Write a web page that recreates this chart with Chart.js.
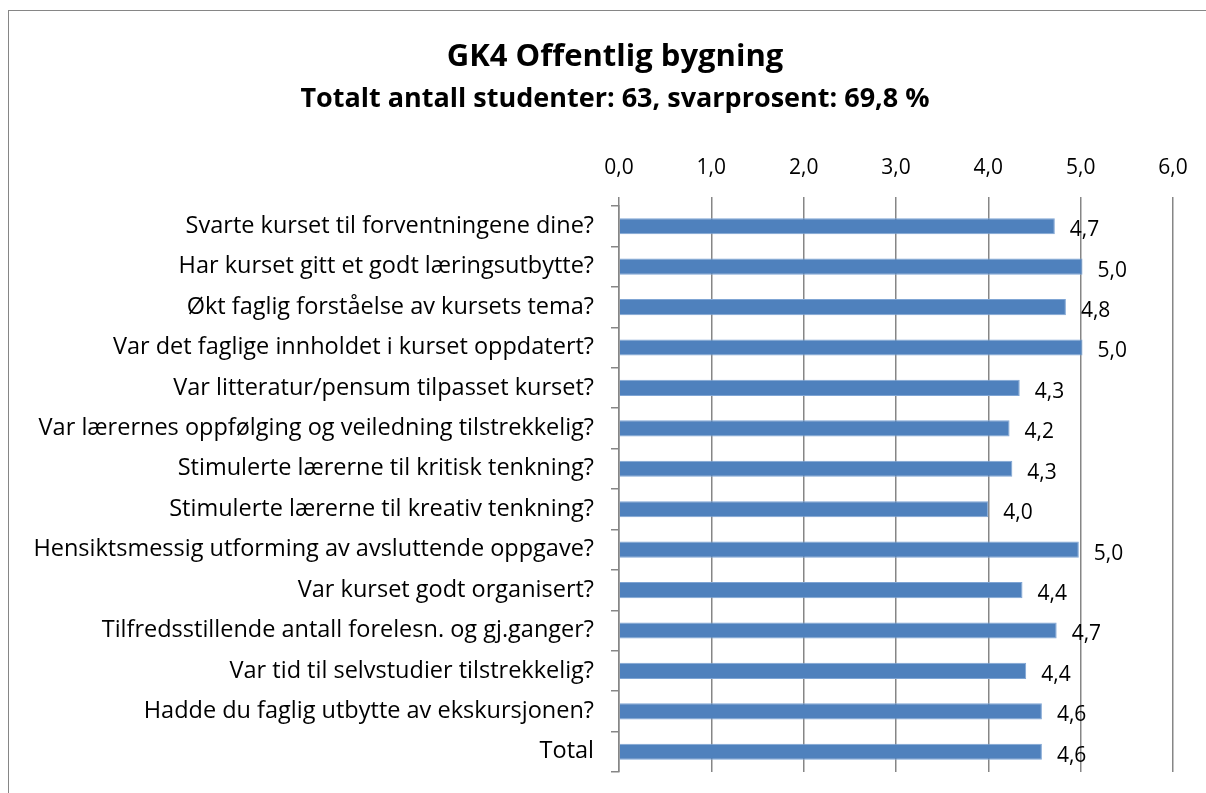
<!DOCTYPE html>
<html>
<head>
<meta charset="utf-8">
<script src="https://cdn.jsdelivr.net/npm/chart.js@4"></script>
<style>
  html, body { margin: 0; padding: 0; background: #fff; overflow: hidden; }
  body { font-family: 'Open Sans', 'Noto Sans', sans-serif; color: #000; }
  #box { position: absolute; left: 8px; top: 10px; width: 1215px; height: 800px; border: 1px solid #868686; background: #fff; }
  .head { position: absolute; left: 0; width: 1230px; text-align: center; font-weight: bold; white-space: nowrap; }
  #title { top: 36px; font-size: 31px; line-height: 37px; }
  #subtitle { top: 81px; font-size: 27px; line-height: 32px; }
</style>
</head>
<body>
<div id="box"><canvas id="chart"></canvas></div>
<div class="head" id="title">GK4 Offentlig bygning</div>
<div class="head" id="subtitle">Totalt antall studenter: 63, svarprosent: 69,8 %</div>
<script>
const questions = [
  'Svarte kurset til forventningene dine?',
  'Har kurset gitt et godt læringsutbytte?',
  'Økt faglig forståelse av kursets tema?',
  'Var det faglige innholdet i kurset oppdatert?',
  'Var litteratur/pensum tilpasset kurset?',
  'Var lærernes oppfølging og veiledning tilstrekkelig?',
  'Stimulerte lærerne til kritisk tenkning?',
  'Stimulerte lærerne til kreativ tenkning?',
  'Hensiktsmessig utforming av avsluttende oppgave?',
  'Var kurset godt organisert?',
  'Tilfredsstillende antall forelesn. og gj.ganger?',
  'Var tid til selvstudier tilstrekkelig?',
  'Hadde du faglig utbytte av ekskursjonen?',
  'Total'
];
const scores = [4.72, 5.02, 4.84, 5.02, 4.34, 4.23, 4.26, 4.00, 4.98, 4.37, 4.74, 4.41, 4.58, 4.58];
const axisMin = 0;
const axisMax = 6;

const fontName = "'Open Sans', 'Noto Sans', sans-serif";
const fmt = v => v.toFixed(1).replace('.', ',');

// verdiene til høyre for stolpene
const valueLabels = {
  id: 'valueLabels',
  afterDatasetsDraw(chart) {
    const ctx = chart.ctx;
    const meta = chart.getDatasetMeta(0);
    ctx.save();
    ctx.font = '21px ' + fontName;
    ctx.fillStyle = '#000';
    ctx.textAlign = 'left';
    ctx.textBaseline = 'middle';
    meta.data.forEach((bar, i) => {
      ctx.fillText(fmt(scores[i]), bar.x + 15, bar.y + 4);
    });
    ctx.restore();
  }
};

const ctx = document.getElementById('chart').getContext('2d');
const chart = new Chart(ctx, {
  type: 'bar',
  data: {
    labels: questions,
    datasets: [{
      data: scores,
      backgroundColor: '#4F81BD',
      borderColor: '#7FA5D4',
      borderWidth: 1,
      categoryPercentage: 1,
      barPercentage: 0.4
    }]
  },
  options: {
    indexAxis: 'y',
    responsive: true,
    maintainAspectRatio: false,
    animation: false,
    layout: { padding: { left: 0, right: 51, top: 102, bottom: 39 } },
    plugins: {
      legend: { display: false },
      tooltip: { enabled: false }
    },
    scales: {
      x: {
        position: 'top',
        min: axisMin,
        max: axisMax,
        afterFit: s => { s.height = 93; },
        ticks: {
          stepSize: 1,
          color: '#000',
          font: { family: fontName, size: 21 },
          padding: 16,
          callback: v => fmt(v)
        },
        grid: { color: '#868686', lineWidth: 1.5, tickLength: 9 },
        border: { display: false }
      },
      y: {
        afterFit: s => { s.width = 610; },
        ticks: {
          color: '#000',
          font: { family: fontName, size: 23.5 },
          padding: 17
        },
        grid: {
          offset: true,
          drawOnChartArea: false,
          drawTicks: true,
          tickLength: 8,
          color: '#868686',
          lineWidth: 1.5
        },
        border: { display: true, color: '#868686', width: 1.5 }
      }
    }
  },
  plugins: [valueLabels]
});
</script>
</body>
</html>
